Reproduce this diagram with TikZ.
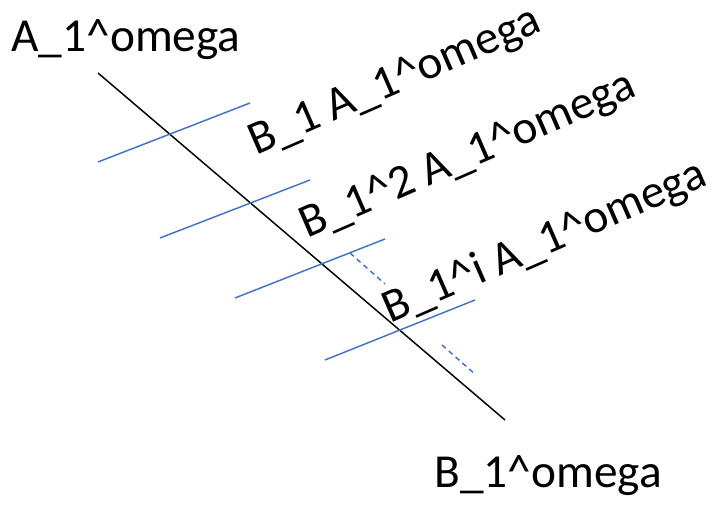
\documentclass[tikz,border=0pt]{standalone}
\usepackage{fontspec}
\setmainfont{Carlito}
\usepackage{tikz}
\definecolor{LineBlue}{RGB}{68,114,196}

\begin{document}
\begin{tikzpicture}[x=0.75pt, y=-0.75pt, every node/.style={inner sep=0pt, anchor=base, font=\fontsize{35.5}{42}\selectfont}, tag/.style={rotate=23.5}, axis/.style={draw=black, line width=1.1pt}, cut/.style={draw=LineBlue, line width=1.1pt}, gap/.style={draw=LineBlue, line width=1.1pt, dash pattern=on 3.8pt off 3pt}]
\useasboundingbox (0,0) rectangle (715,505);

% labels
\node (top) at (126,52) {A\_1\^{}omega};
\node (bot) at (548,488) {B\_1\^{}omega};
\node (one) [tag] at (400,93) {B\_1 A\_1\^{}omega};
\node (two) [tag] at (473,167) {B\_1\^{}2 A\_1\^{}omega};
\node (ith) [tag] at (550,254) {B\_1\^{}i A\_1\^{}omega};

% end points
\coordinate (s) at (98,73);
\coordinate (t) at (505,420);
\coordinate (a1) at (98,162);  \coordinate (b1) at (250,103);
\coordinate (a2) at (160,238); \coordinate (b2) at (310,180);
\coordinate (a3) at (235,298); \coordinate (b3) at (385,239);
\coordinate (a4) at (325,360); \coordinate (b4) at (475,300);
\coordinate (d1) at (350,253); \coordinate (e1) at (385,284);
\coordinate (d2) at (442,345); \coordinate (e2) at (476,375);

\draw [axis] (s) -- (t);
\draw [cut] (a1) -- (b1);
\draw [cut] (a2) -- (b2);
\draw [cut] (a3) -- (b3);
\draw [cut] (a4) -- (b4);
\draw [gap] (d1) -- (e1);
\draw [gap] (d2) -- (e2);
\end{tikzpicture}
\end{document}
